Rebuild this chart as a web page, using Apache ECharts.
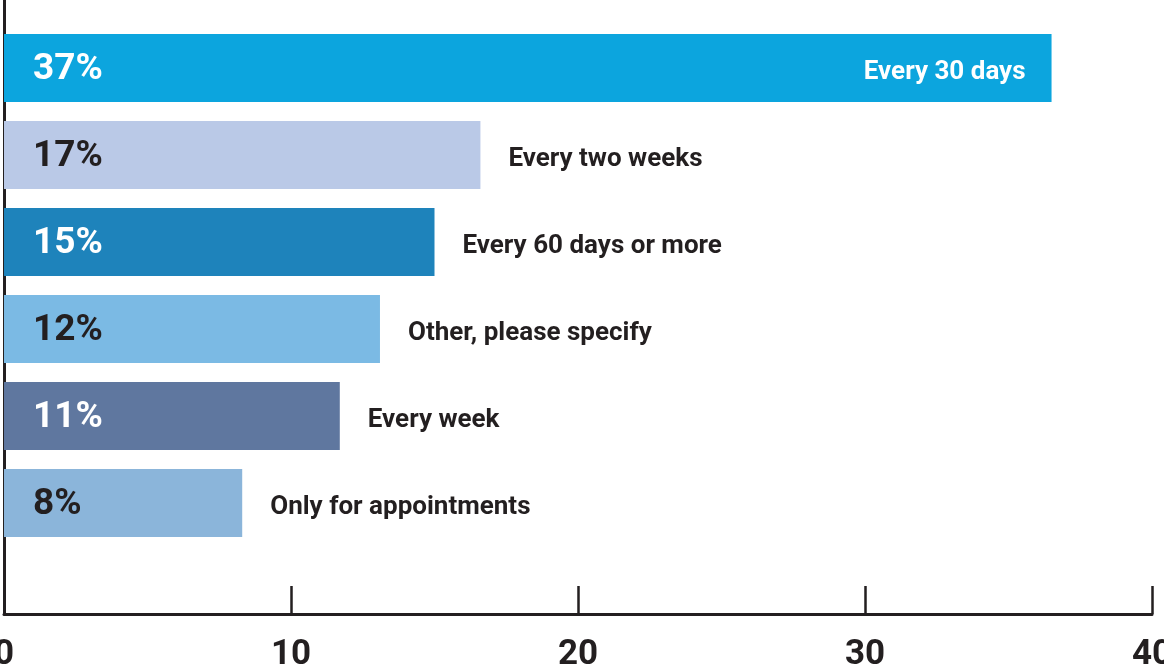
<!DOCTYPE html>
<html>
<head>
<meta charset="utf-8">
<script src="https://cdn.jsdelivr.net/npm/echarts@6/dist/echarts.min.js"></script>
<style>
html,body{margin:0;padding:0;background:#fff;}
#chart{width:1164px;height:670px;}
</style>
</head>
<body>
<div id="chart"></div>
<script>
const categories = ['Every 30 days', 'Every two weeks', 'Every 60 days or more', 'Other, please specify', 'Every week', 'Only for appointments'];
const barValues = [36.5, 16.6, 15.0, 13.1, 11.7, 8.3];
const pctLabels = ['37%', '17%', '15%', '12%', '11%', '8%'];
const barColors = ['#0ca5de', '#bac9e7', '#1e83bb', '#7bbae4', '#5f779f', '#8bb5da'];
const pctColors = ['#ffffff', '#231f20', '#ffffff', '#231f20', '#ffffff', '#231f20'];
const xTicks = [0, 10, 20, 30, 40];

const FONT = 'Roboto, "Liberation Sans", sans-serif';
const DARK = '#231f20';

const chart = echarts.init(document.getElementById('chart'), null, {renderer: 'canvas'});

const pctData = barValues.map((v, i) => ({
  value: v,
  itemStyle: {color: barColors[i]},
  label: {color: pctColors[i]}
}));
const catData = barValues.map((v, i) => (i === 0 ? {
  value: v,
  label: {position: 'insideRight', distance: 26, color: '#ffffff'}
} : {value: v}));

chart.setOption({
  animation: false,
  grid: [
    {left: 4, right: 12, top: 0, bottom: 56, containLabel: false, outerBoundsMode: 'none'},
    {left: 4, right: 12, top: 24.5, height: 522, containLabel: false, outerBoundsMode: 'none'}
  ],
  xAxis: [
    {
      gridIndex: 0, type: 'value', min: xTicks[0], max: xTicks[xTicks.length - 1], interval: 10,
      axisLine: {show: true, lineStyle: {color: DARK, width: 3}},
      axisTick: {show: true, inside: true, length: 28, lineStyle: {color: DARK, width: 2.5}},
      axisLabel: {show: true, fontFamily: FONT, fontWeight: 'bold', fontSize: 35, color: DARK, margin: 24,
        showMinLabel: true, showMaxLabel: true},
      splitLine: {show: false}
    },
    {
      gridIndex: 1, type: 'value', min: xTicks[0], max: xTicks[xTicks.length - 1], show: false
    }
  ],
  yAxis: [
    {
      gridIndex: 0, type: 'value', min: 0, max: 1,
      axisLine: {show: true, lineStyle: {color: DARK, width: 3}},
      axisTick: {show: false}, axisLabel: {show: false}, splitLine: {show: false}
    },
    {
      gridIndex: 1, type: 'category', data: categories, inverse: true, show: false
    }
  ],
  series: [
    {
      type: 'bar', xAxisIndex: 1, yAxisIndex: 1, barWidth: 68, data: pctData, z: 2,
      label: {
        show: true, position: 'insideLeft', distance: 29, offset: [0, 2],
        formatter: p => pctLabels[p.dataIndex],
        fontFamily: FONT, fontWeight: 'bold', fontSize: 37
      }
    },
    {
      type: 'bar', xAxisIndex: 1, yAxisIndex: 1, barWidth: 68, barGap: '-100%', data: catData, z: 3,
      itemStyle: {color: 'rgba(0,0,0,0)'},
      label: {
        show: true, position: 'right', distance: 28, offset: [0, 4],
        formatter: p => categories[p.dataIndex],
        fontFamily: FONT, fontWeight: 'bold', fontSize: 26, color: DARK
      }
    }
  ]
});
</script>
</body>
</html>
